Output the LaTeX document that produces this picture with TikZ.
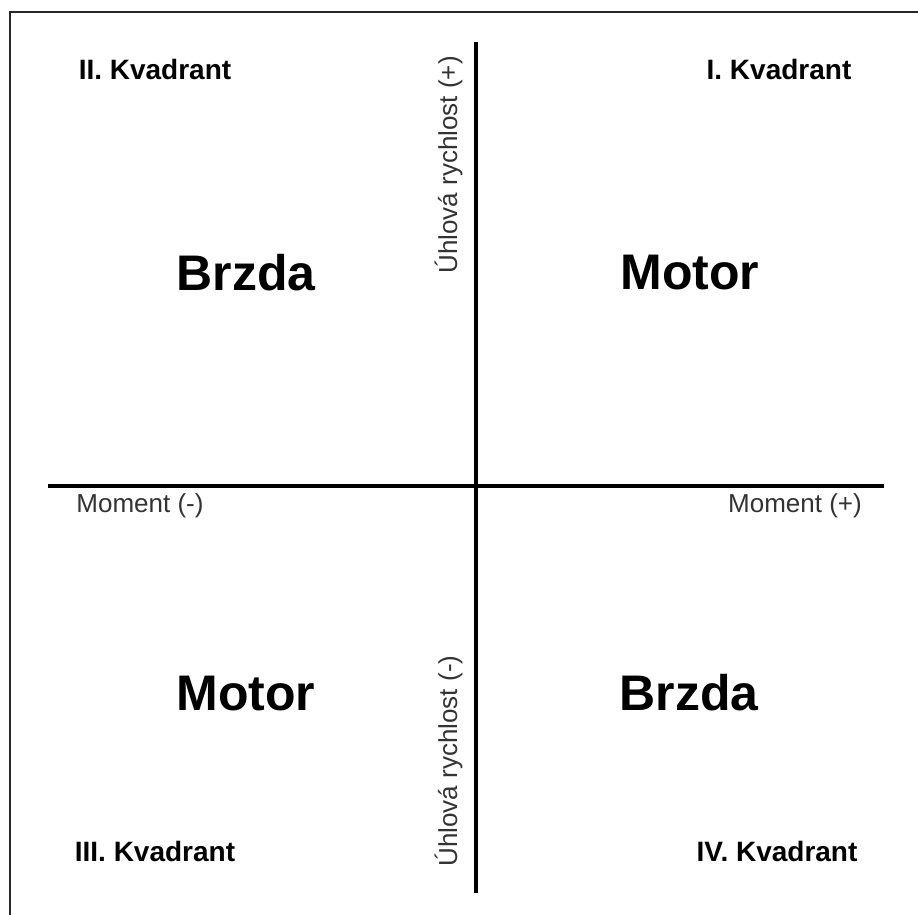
\documentclass[tikz,border=0pt]{standalone}
\usepackage{fontspec}
\setmainfont{Liberation Sans}
\begin{document}
\begin{tikzpicture}[x=1pt,y=-1pt,
  kvad/.style={font=\bfseries\fontsize{28}{30}\selectfont, text=black, inner sep=0pt, anchor=base},
  big/.style={font=\bfseries\fontsize{50}{52}\selectfont, text=black, inner sep=0pt, anchor=base},
  axlabel/.style={font=\fontsize{26}{28}\selectfont, text=black!80, inner sep=0pt, anchor=base},
  axis/.style={line width=4pt, black},
  frame/.style={line width=2pt, black!85}]
\useasboundingbox (0,0) rectangle (918,915);
\fill[white] (0,0) rectangle (918,915);
% frame (top and left edges visible)
\coordinate (fbl) at (10,915);
\coordinate (ftl) at (10,12);
\coordinate (ftr) at (918,12);
\draw[frame] (fbl) -- (ftl) -- (ftr);
% axes
\coordinate (vtop) at (476,42);
\coordinate (vbot) at (476,893);
\coordinate (hleft) at (48,486);
\coordinate (hright) at (884,486);
\draw[axis] (vtop) -- (vbot);
\draw[axis] (hleft) -- (hright);
% quadrant titles
\node[kvad] (q2) at (155,80) {II. Kvadrant};
\node[kvad] (q1) at (779,80) {I. Kvadrant};
\node[kvad] (q3) at (155,861) {III. Kvadrant};
\node[kvad] (q4) at (777,861) {IV. Kvadrant};
% modes
\node[big] (b1) at (246,290) {Brzda};
\node[big] (m1) at (690,289) {Motor};
\node[big] (m2) at (246,710) {Motor};
\node[big] (b2) at (689,710) {Brzda};
% axis labels
\node[axlabel] (mneg) at (140,512) {Moment (-)};
\node[axlabel] (mpos) at (795,512) {Moment (+)};
\node[axlabel, rotate=90] (wpos) at (457,165) {Úhlová rychlost (+)};
\node[axlabel, rotate=90] (wneg) at (457,761) {Úhlová rychlost (-)};
\end{tikzpicture}
\end{document}
